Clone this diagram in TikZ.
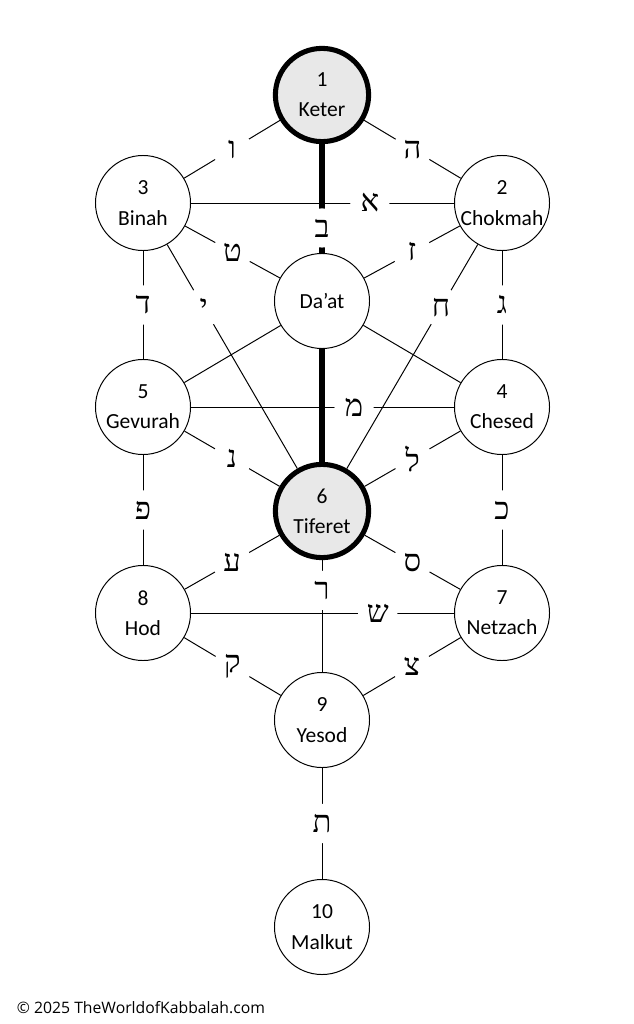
\documentclass[tikz,border=0pt]{standalone}
\usepackage{fontspec}
\setmainfont{Carlito}
\newfontfamily\hebfont[Script=Hebrew]{Liberation Serif}
\newfontfamily\notefont{Open Sans}
\TeXXeTstate=1
\usepackage{tikz}
\usetikzlibrary{positioning}
\tikzset{
  sefira/.style={circle, draw, line width=0.7pt, fill=white, minimum size=2.375cm,
                 inner sep=0pt, text centered, align=center,
                 font=\fontsize{15.3}{21.5}\selectfont},
  crown/.style={sefira, line width=3.6pt, fill=black!9, minimum size=2.33cm},
  channel/.style={line width=0.7pt},
  pillar/.style={line width=3.6pt},
  letter/.style={circle, fill=white, inner sep=0pt, minimum size=0.98cm,
                 font=\hebfont\fontsize{22}{22}\selectfont}
}
\newcommand{\heb}[1]{\beginR #1\endR}

\begin{document}
\begin{tikzpicture}[x=0.025cm, y=-0.025cm]
    \useasboundingbox (0,0) rectangle (633,1024);

    \node[crown]  (keter)   at (322,95)  {1\\Keter};
    \node[sefira] (binah)   at (143,203) {3\\Binah};
    \node[sefira] (chokmah) at (502,203) {2\\Chokmah};
    \node[sefira] (daat)    at (322,301) {Da’at};
    \node[sefira] (gevurah) at (143,407) {5\\Gevurah};
    \node[sefira] (chesed)  at (502,407) {4\\Chesed};
    \node[crown]  (tiferet) at (322,511) {6\\Tiferet};
    \node[sefira] (hod)     at (143,613) {8\\Hod};
    \node[sefira] (netzach) at (502,613) {7\\Netzach};
    \node[sefira] (yesod)   at (322,720) {9\\Yesod};
    \node[sefira] (malkut)  at (322,927) {10\\Malkut};

    % thin paths
    \draw[channel] (keter) -- node[letter]{\heb{ו}} (binah);
    \draw[channel] (keter) -- node[letter]{\heb{ה}} (chokmah);
    \draw[channel] (binah) -- node[letter, pos=0.68]{\heb{א}} (chokmah);
    \draw[channel] (binah) -- node[letter]{\heb{ט}} (daat);
    \draw[channel] (chokmah) -- node[letter]{\heb{ז}} (daat);
    \draw[channel] (binah) -- node[letter]{\heb{ד}} (gevurah);
    \draw[channel] (binah) -- node[letter, pos=0.28]{\heb{י}} (tiferet);
    \draw[channel] (chokmah) -- node[letter, pos=0.28]{\heb{ח}} (tiferet);
    \draw[channel] (chokmah) -- node[letter]{\heb{ג}} (chesed);
    \draw[channel] (daat) -- (gevurah);
    \draw[channel] (daat) -- (chesed);
    \draw[channel] (gevurah) -- node[letter, pos=0.62]{\heb{מ}} (chesed);
    \draw[channel] (gevurah) -- node[letter]{\heb{נ}} (tiferet);
    \draw[channel] (chesed) -- node[letter]{\heb{ל}} (tiferet);
    \draw[channel] (gevurah) -- node[letter]{\heb{פ}} (hod);
    \draw[channel] (chesed) -- node[letter]{\heb{כ}} (netzach);
    \draw[channel] (tiferet) -- node[letter]{\heb{ע}} (hod);
    \draw[channel] (tiferet) -- node[letter]{\heb{ס}} (netzach);
    \draw[channel] (tiferet) -- node[letter, pos=0.27]{\heb{ר}} (yesod);
    \draw[channel] (hod) -- node[letter, pos=0.71]{\heb{ש}} (netzach);
    \draw[channel] (hod) -- node[letter]{\heb{ק}} (yesod);
    \draw[channel] (netzach) -- node[letter]{\heb{צ}} (yesod);
    \draw[channel] (yesod) -- node[letter]{\heb{ת}} (malkut);

    % middle pillar
    \draw[pillar] (keter) -- node[letter, pos=0.77]{\heb{ב}} (daat);
    \draw[pillar] (daat) -- (tiferet);

    \node[anchor=west, font=\notefont\fontsize{11.2}{13}\selectfont] (note) at (12,1008)
        {© 2025 TheWorldofKabbalah.com};
\end{tikzpicture}
\end{document}
